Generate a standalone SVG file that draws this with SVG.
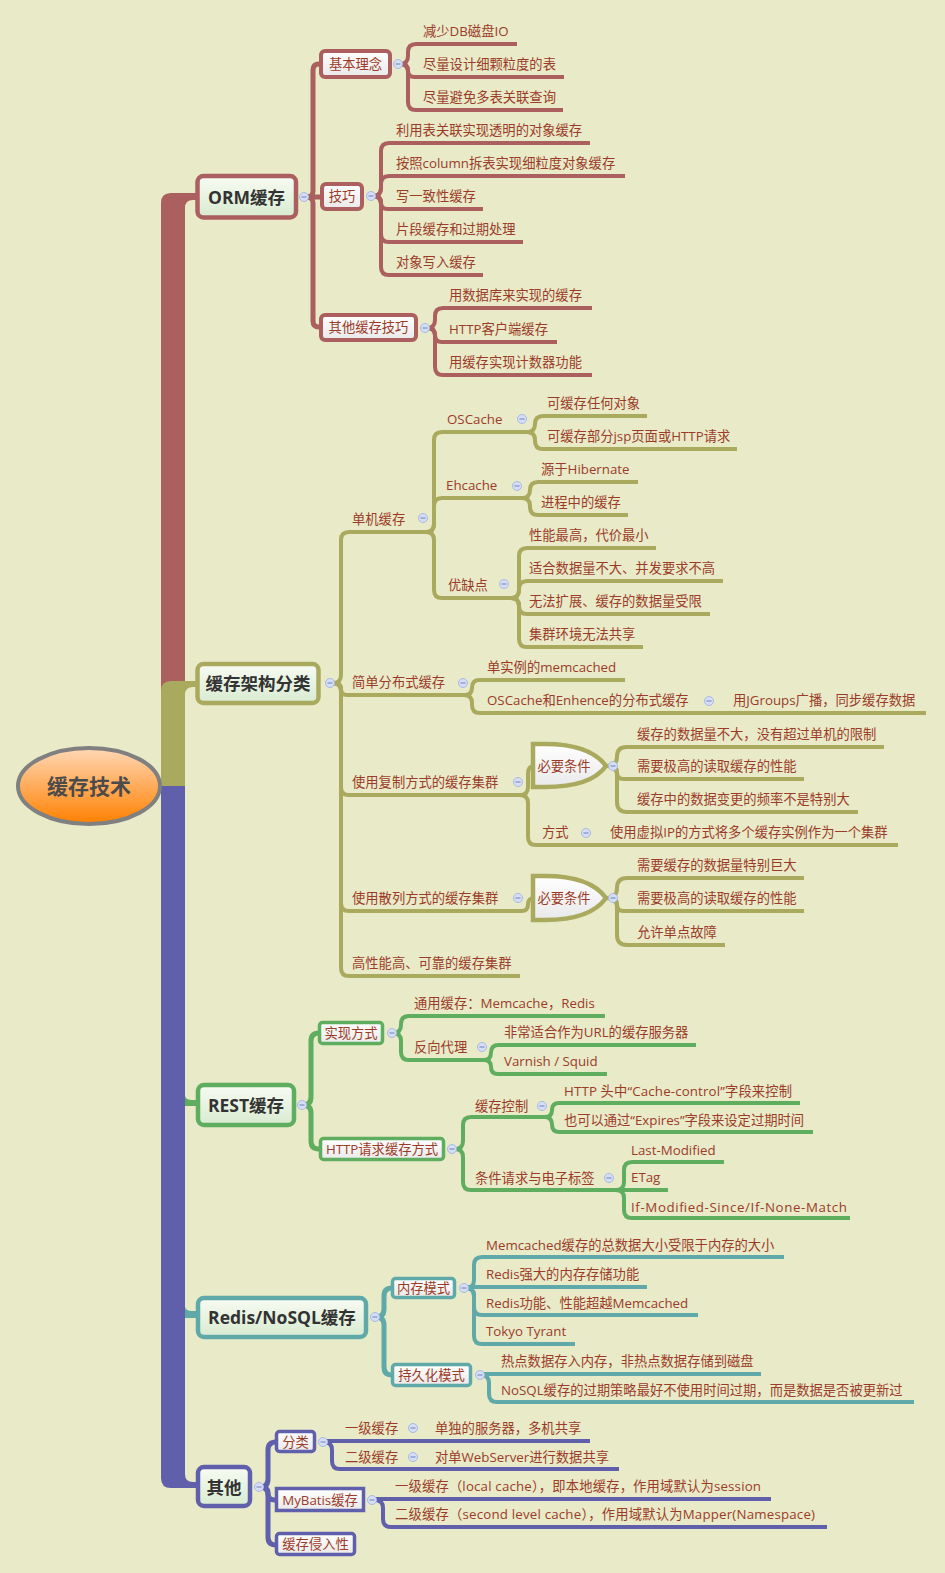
<svg xmlns="http://www.w3.org/2000/svg" width="945" height="1573" viewBox="0 0 945 1573">
<defs>
<linearGradient id="gRoot" x1="0" y1="0" x2="0" y2="1"><stop offset="0" stop-color="#ffd8b6"/><stop offset="1" stop-color="#ff8000"/></linearGradient>
<linearGradient id="gL1" x1="0" y1="0" x2="0" y2="1"><stop offset="0" stop-color="#f8fbf3"/><stop offset="1" stop-color="#d8ebd0"/></linearGradient>
<linearGradient id="gL2" x1="0" y1="0" x2="0" y2="1"><stop offset="0" stop-color="#ffffff"/><stop offset="1" stop-color="#e9e9e9"/></linearGradient>
<g id="cc"><circle r="4.5" fill="#d6def5" stroke="#a8b9e6" stroke-width="1"/><path d="M-2.5 0H2.5" stroke="#6f80c0" stroke-width="1"/></g>
</defs>
<style>
text{font-family:"Open Sans","Noto Sans CJK SC",sans-serif}
.t{font-size:13.3px;fill:#9c3c28}
.t1{font-size:17.5px;font-weight:bold;fill:#333333;text-anchor:middle}
.tm{text-anchor:middle}
.cn path{fill:none}
.r{stroke:#ab5f5f}.o{stroke:#aaaa5f}.g{stroke:#5fad5f}.tl{stroke:#5faaa8}.p{stroke:#5f5fab}
.w5{stroke-width:5}.w4{stroke-width:4}
.b1{fill:url(#gL1);stroke-width:4.5}
.b2{fill:url(#gL2);stroke-width:4}
.b3{fill:url(#gL2);stroke-width:3.5}
</style>
<rect x="0" y="0" width="945" height="1573" fill="#e8eac8"/>

<g id="trunk">
<path d="M196 193H171Q161 193 161 203V694H185V208Q185 200 193 200H197Z" fill="#ab5f5f"/>
<path d="M196 681H171Q161 681 161 691V787H185V695Q185 687 193 687H197Z" fill="#aaaa5f"/>
<path d="M161 786V1478Q161 1488 171 1488H198V1482H193Q185 1482 185 1474V786Z" fill="#5f5fab"/>
<path d="M185 1096Q186 1100 192 1100H198V1106H185Z" fill="#5fad5f"/>
<path d="M185 1307Q186 1311 192 1311H198V1318H185Z" fill="#5faaa8"/>
</g>

<g id="connectors" class="cn">
<g class="r w5">
<path d="M300 197H307Q313 197 313 191V70Q313 64 319 64H323"/>
<path d="M300 197H323"/>
<path d="M300 197H307Q313 197 313 203V321Q313 327 319 327H323"/>
</g>
<g class="r w4">
<path d="M398 64H400Q408 64 408 56V52Q408 44 416 44H517"/>
<path d="M398 64H401.5Q408 64 408 70.5Q408 77 414.5 77H564"/>
<path d="M398 64H400Q408 64 408 72V102Q408 110 416 110H563"/>
<path d="M371 196H373Q381 196 381 188V151Q381 143 389 143H590"/>
<path d="M371 196H373Q381 196 381 188V184Q381 176 389 176H625"/>
<path d="M371 196H374.5Q381 196 381 202.5Q381 209 387.5 209H483"/>
<path d="M371 196H373Q381 196 381 204V234Q381 242 389 242H523"/>
<path d="M371 196H373Q381 196 381 204V267Q381 275 389 275H483"/>
<path d="M425 328H427Q435 328 435 320V316Q435 308 443 308H592"/>
<path d="M425 328H428Q435 328 435 335Q435 342 442 342H557"/>
<path d="M425 328H427Q435 328 435 336V367Q435 375 443 375H592"/>
</g>
<g class="o w4">
<path d="M330 683H333Q341 683 341 675V540Q341 532 349 532H428"/>
<path d="M330 683H335Q341 683 341 689Q341 695 347 695H465"/>
<path d="M330 683H333Q341 683 341 691V787Q341 795 349 795H520"/>
<path d="M330 683H333Q341 683 341 691V903Q341 911 349 911H520"/>
<path d="M330 683H333Q341 683 341 691V968Q341 976 349 976H520"/>
<path d="M425 532H426Q434 532 434 524V440Q434 432 442 432H528"/>
<path d="M425 532H426Q434 532 434 524V506Q434 498 442 498H522"/>
<path d="M425 532H426Q434 532 434 540V590Q434 598 442 598H512"/>
<path d="M526 432H527Q535 432 535 424Q535 416 543 416H647"/>
<path d="M526 432H527Q535 432 535 440V441Q535 449 543 449H737"/>
<path d="M520 498H522Q530 498 530 490Q530 482 538 482H638"/>
<path d="M520 498H522Q530 498 530 506V507Q530 515 538 515H628"/>
<path d="M510 598H511Q519 598 519 590V556Q519 548 527 548H656"/>
<path d="M510 598H511Q519 598 519 590V589Q519 581 527 581H723"/>
<path d="M510 598H511Q519 598 519 606Q519 614 527 614H710"/>
<path d="M510 598H511Q519 598 519 606V639Q519 647 527 647H643"/>
<path d="M463 695H464.5Q472 695 472 687.5Q472 680 479.5 680H625"/>
<path d="M463 695H464Q472 695 472 703V705Q472 713 480 713H926"/>
<path d="M518 795H520Q528 795 528 787V774Q528 766 534 766H537"/>
<path d="M518 795H520Q528 795 528 803V837Q528 845 536 845H898"/>
<path d="M518 911H521.5Q528 911 528 904.5Q528 898 534.5 898H537"/>
<path d="M606 766H607.5Q617 766 617 756.5Q617 747 626.5 747H884"/>
<path d="M606 766H610.5Q617 766 617 772.5Q617 779 623.5 779H804"/>
<path d="M606 766H607Q617 766 617 776V802Q617 812 627 812H858"/>
<path d="M606 898H607Q617 898 617 888Q617 878 627 878H804"/>
<path d="M606 898H610.5Q617 898 617 904.5Q617 911 623.5 911H804"/>
<path d="M606 898H607Q617 898 617 908V935Q617 945 627 945H725"/>
</g>
<g class="g w5">
<path d="M302 1105H303Q311 1105 311 1097V1041Q311 1033 319 1033H322"/>
<path d="M302 1105H303Q311 1105 311 1113V1141Q311 1149 319 1149H322"/>
</g>
<g class="g w4">
<path d="M392 1033H393Q401 1033 401 1025V1024Q401 1016 409 1016H605"/>
<path d="M392 1033H393Q401 1033 401 1041V1052Q401 1060 409 1060H484"/>
<path d="M482 1060H483.5Q491 1060 491 1052.5Q491 1045 498.5 1045H696"/>
<path d="M482 1060H484Q491 1060 491 1067Q491 1074 498 1074H607"/>
<path d="M452 1149H455Q463 1149 463 1141V1125Q463 1117 471 1117H545"/>
<path d="M452 1149H455Q463 1149 463 1157V1182Q463 1190 471 1190H620"/>
<path d="M543 1117H545Q552 1117 552 1110Q552 1103 559 1103H800"/>
<path d="M543 1117H544.5Q552 1117 552 1124.5Q552 1132 559.5 1132H813"/>
<path d="M614 1190H616Q624 1190 624 1182V1170Q624 1162 632 1162H724"/>
<path d="M614 1190H668"/>
<path d="M614 1190H616Q624 1190 624 1198V1210Q624 1218 632 1218H850"/>
</g>
<g class="tl w5">
<path d="M375 1317H376Q384 1317 384 1309V1296Q384 1288 392 1288H395"/>
<path d="M375 1317H376Q384 1317 384 1325V1367Q384 1375 392 1375H395"/>
</g>
<g class="tl w4">
<path d="M464 1288H466Q474 1288 474 1280V1265Q474 1257 482 1257H784"/>
<path d="M464 1287H647"/>
<path d="M464 1288H466Q474 1288 474 1296V1307Q474 1315 482 1315H698"/>
<path d="M464 1288H466Q474 1288 474 1296V1336Q474 1344 482 1344H575"/>
<path d="M480 1374H761"/>
<path d="M480 1375H481Q489 1375 489 1383V1394Q489 1402 497 1402H914"/>
</g>
<g class="p w5">
<path d="M259 1487H260Q268 1487 268 1479V1450Q268 1442 276 1442H279"/>
<path d="M259 1487H261.5Q268 1487 268 1493.5Q268 1500 274.5 1500H279"/>
<path d="M259 1487H260Q268 1487 268 1495V1537Q268 1545 276 1545H279"/>
</g>
<g class="p w4">
<path d="M323 1441H590"/>
<path d="M323 1442H324Q332 1442 332 1450V1461Q332 1469 340 1469H619"/>
<path d="M372 1499H771"/>
<path d="M372 1500H375Q383 1500 383 1508V1519Q383 1527 391 1527H827"/>
</g>
</g>

<g id="n-root"><ellipse cx="89" cy="786" rx="71" ry="38" fill="url(#gRoot)" stroke="#808080" stroke-width="4"/><text x="89" y="794" text-anchor="middle" font-size="21" font-weight="bold" fill="#4b4b4b">缓存技术</text></g>

<g id="n-orm"><rect class="b1 r" x="197.5" y="176" width="98.5" height="41.5" rx="6"/><text class="t1" x="246.5" y="204">ORM缓存</text></g>
<g id="n-jbln"><rect class="b2 r" x="321" y="51" width="69" height="26" rx="4"/><text class="t tm" x="355.5" y="69">基本理念</text></g>
<g id="n-jq"><rect class="b2 r" x="322" y="184" width="40" height="25" rx="4"/><text class="t tm" x="342" y="201">技巧</text></g>
<g id="n-qtjq"><rect class="b2 r" x="321" y="315" width="95" height="25" rx="4"/><text class="t tm" x="368.5" y="332">其他缓存技巧</text></g>
<g id="l-1"><text class="t" x="423" y="36">减少DB磁盘IO</text></g>
<g id="l-2"><text class="t" x="423" y="69">尽量设计细颗粒度的表</text></g>
<g id="l-3"><text class="t" x="423" y="102">尽量避免多表关联查询</text></g>
<g id="l-4"><text class="t" x="396" y="135">利用表关联实现透明的对象缓存</text></g>
<g id="l-5"><text class="t" x="396" y="168">按照column拆表实现细粒度对象缓存</text></g>
<g id="l-6"><text class="t" x="396" y="201">写一致性缓存</text></g>
<g id="l-7"><text class="t" x="396" y="234">片段缓存和过期处理</text></g>
<g id="l-8"><text class="t" x="396" y="267">对象写入缓存</text></g>
<g id="l-9"><text class="t" x="449" y="300">用数据库来实现的缓存</text></g>
<g id="l-10"><text class="t" x="449" y="334">HTTP客户端缓存</text></g>
<g id="l-11"><text class="t" x="449" y="367">用缓存实现计数器功能</text></g>

<g id="n-arch"><rect class="b1 o" x="197.5" y="664" width="121" height="39" rx="6"/><text class="t1" x="258" y="690">缓存架构分类</text></g>
<g id="a-1"><text class="t" x="352" y="524">单机缓存</text></g>
<g id="a-2"><text class="t" x="352" y="687">简单分布式缓存</text></g>
<g id="a-3"><text class="t" x="352" y="787">使用复制方式的缓存集群</text></g>
<g id="a-4"><text class="t" x="352" y="903">使用散列方式的缓存集群</text></g>
<g id="a-5"><text class="t" x="352" y="968">高性能高、可靠的缓存集群</text></g>
<g id="a-6"><text class="t" x="447" y="424">OSCache</text></g>
<g id="a-7"><text class="t" x="446" y="490">Ehcache</text></g>
<g id="a-8"><text class="t" x="448" y="590">优缺点</text></g>
<g id="a-9"><text class="t" x="547" y="408">可缓存任何对象</text></g>
<g id="a-10"><text class="t" x="547" y="441">可缓存部分jsp页面或HTTP请求</text></g>
<g id="a-11"><text class="t" x="541" y="474">源于Hibernate</text></g>
<g id="a-12"><text class="t" x="541" y="507">进程中的缓存</text></g>
<g id="a-13"><text class="t" x="529" y="540">性能最高，代价最小</text></g>
<g id="a-14"><text class="t" x="529" y="573">适合数据量不大、并发要求不高</text></g>
<g id="a-15"><text class="t" x="529" y="606">无法扩展、缓存的数据量受限</text></g>
<g id="a-16"><text class="t" x="529" y="639">集群环境无法共享</text></g>
<g id="a-17"><text class="t" x="487" y="672">单实例的memcached</text></g>
<g id="a-18"><text class="t" x="487" y="705">OSCache和Enhence的分布式缓存</text></g>
<g id="a-19"><text class="t" x="733" y="705">用JGroups广播，同步缓存数据</text></g>
<g id="a-20"><path d="M533 744H545C575 744 596 752 606 766C596 780 575 787 545 787H533Z" fill="url(#gL2)" stroke="#aaaa5f" stroke-width="4.5"/><text class="t tm" x="564" y="771">必要条件</text></g>
<g id="a-21"><text class="t" x="637" y="739">缓存的数据量不大，没有超过单机的限制</text></g>
<g id="a-22"><text class="t" x="637" y="771">需要极高的读取缓存的性能</text></g>
<g id="a-23"><text class="t" x="637" y="804">缓存中的数据变更的频率不是特别大</text></g>
<g id="a-24"><text class="t" x="542" y="837">方式</text></g>
<g id="a-25"><text class="t" x="610" y="837">使用虚拟IP的方式将多个缓存实例作为一个集群</text></g>
<g id="a-26"><path d="M533 876H545C575 876 596 884 606 898C596 912 575 920 545 920H533Z" fill="url(#gL2)" stroke="#aaaa5f" stroke-width="4.5"/><text class="t tm" x="564" y="903">必要条件</text></g>
<g id="a-27"><text class="t" x="637" y="870">需要缓存的数据量特别巨大</text></g>
<g id="a-28"><text class="t" x="637" y="903">需要极高的读取缓存的性能</text></g>
<g id="a-29"><text class="t" x="637" y="937">允许单点故障</text></g>

<g id="n-rest"><rect class="b1 g" x="198" y="1085" width="96" height="40" rx="6"/><text class="t1" x="246" y="1112">REST缓存</text></g>
<g id="n-sxfs"><rect class="b3 g" x="319.5" y="1022.5" width="63" height="21" rx="3"/><text class="t tm" x="351" y="1038">实现方式</text></g>
<g id="n-http"><rect class="b3 g" x="320.5" y="1138.5" width="123" height="21" rx="3"/><text class="t tm" x="382" y="1154">HTTP请求缓存方式</text></g>
<g id="r-1"><text class="t" x="414" y="1008">通用缓存：Memcache，Redis</text></g>
<g id="r-2"><text class="t" x="414" y="1052">反向代理</text></g>
<g id="r-3"><text class="t" x="504" y="1037">非常适合作为URL的缓存服务器</text></g>
<g id="r-4"><text class="t" x="504" y="1066">Varnish / Squid</text></g>
<g id="r-5"><text class="t" x="475" y="1111">缓存控制</text></g>
<g id="r-6"><text class="t" x="475" y="1183">条件请求与电子标签</text></g>
<g id="r-7"><text class="t" x="564" y="1096" textLength="228" lengthAdjust="spacing">HTTP 头中“Cache-control”字段来控制</text></g>
<g id="r-8"><text class="t" x="564" y="1125" textLength="240" lengthAdjust="spacing">也可以通过“Expires”字段来设定过期时间</text></g>
<g id="r-9"><text class="t" x="631" y="1155">Last-Modified</text></g>
<g id="r-10"><text class="t" x="631" y="1182">ETag</text></g>
<g id="r-11"><text class="t" x="631" y="1212" textLength="216" lengthAdjust="spacing">If-Modified-Since/If-None-Match</text></g>

<g id="n-redis"><rect class="b1 tl" x="198" y="1298" width="168" height="39" rx="6"/><text class="t1" x="282" y="1324">Redis/NoSQL缓存</text></g>
<g id="n-ncms"><rect class="b3 tl" x="392.5" y="1278.5" width="62" height="19" rx="3"/><text class="t tm" x="423.5" y="1293">内存模式</text></g>
<g id="n-cjh"><rect class="b3 tl" x="392.5" y="1364.5" width="78" height="21" rx="3"/><text class="t tm" x="431.5" y="1380">持久化模式</text></g>
<g id="d-1"><text class="t" x="486" y="1250">Memcached缓存的总数据大小受限于内存的大小</text></g>
<g id="d-2"><text class="t" x="486" y="1279">Redis强大的内存存储功能</text></g>
<g id="d-3"><text class="t" x="486" y="1308">Redis功能、性能超越Memcached</text></g>
<g id="d-4"><text class="t" x="486" y="1336">Tokyo Tyrant</text></g>
<g id="d-5"><text class="t" x="501" y="1366">热点数据存入内存，非热点数据存储到磁盘</text></g>
<g id="d-6"><text class="t" x="501" y="1395">NoSQL缓存的过期策略最好不使用时间过期，而是数据是否被更新过</text></g>

<g id="n-other"><rect class="b1 p" x="198" y="1467" width="52" height="39" rx="6"/><text class="t1" x="224" y="1494">其他</text></g>
<g id="n-fl"><rect class="b3 p" x="276.5" y="1431.5" width="38" height="20" rx="3"/><text class="t tm" x="295.5" y="1447">分类</text></g>
<g id="n-mybatis"><rect class="b3 p" x="276.5" y="1488.5" width="87" height="22"/><text class="t tm" x="320" y="1505">MyBatis缓存</text></g>
<g id="n-qrx"><rect class="b3 p" x="276.5" y="1533.5" width="78" height="21" rx="3"/><text class="t tm" x="315.5" y="1549">缓存侵入性</text></g>
<g id="q-1"><text class="t" x="345" y="1433">一级缓存</text></g>
<g id="q-2"><text class="t" x="435" y="1433">单独的服务器，多机共享</text></g>
<g id="q-3"><text class="t" x="345" y="1462">二级缓存</text></g>
<g id="q-4"><text class="t" x="435" y="1462">对单WebServer进行数据共享</text></g>
<g id="q-5"><text class="t" x="395" y="1491" textLength="366" lengthAdjust="spacing">一级缓存（local cache），即本地缓存，作用域默认为session</text></g>
<g id="q-6"><text class="t" x="395" y="1519" textLength="420" lengthAdjust="spacing">二级缓存（second level cache），作用域默认为Mapper(Namespace)</text></g>

<g id="collapse">
<use href="#cc" x="304" y="197"/><use href="#cc" x="398" y="64"/><use href="#cc" x="371" y="196"/><use href="#cc" x="425" y="328"/>
<use href="#cc" x="330" y="683"/><use href="#cc" x="423" y="518"/><use href="#cc" x="522" y="419"/><use href="#cc" x="517" y="486"/><use href="#cc" x="504" y="584"/><use href="#cc" x="463" y="683"/><use href="#cc" x="709" y="701"/><use href="#cc" x="518" y="782"/><use href="#cc" x="613" y="766"/><use href="#cc" x="586" y="833"/><use href="#cc" x="518" y="898"/><use href="#cc" x="613" y="898"/>
<use href="#cc" x="302" y="1105"/><use href="#cc" x="392" y="1033"/><use href="#cc" x="482" y="1047"/><use href="#cc" x="452" y="1149"/><use href="#cc" x="542" y="1106"/><use href="#cc" x="609" y="1178"/>
<use href="#cc" x="375" y="1317"/><use href="#cc" x="464" y="1288"/><use href="#cc" x="480" y="1375"/>
<use href="#cc" x="259" y="1487"/><use href="#cc" x="323" y="1442"/><use href="#cc" x="372" y="1500"/><use href="#cc" x="413" y="1428"/><use href="#cc" x="413" y="1457"/>
</g>
</svg>
